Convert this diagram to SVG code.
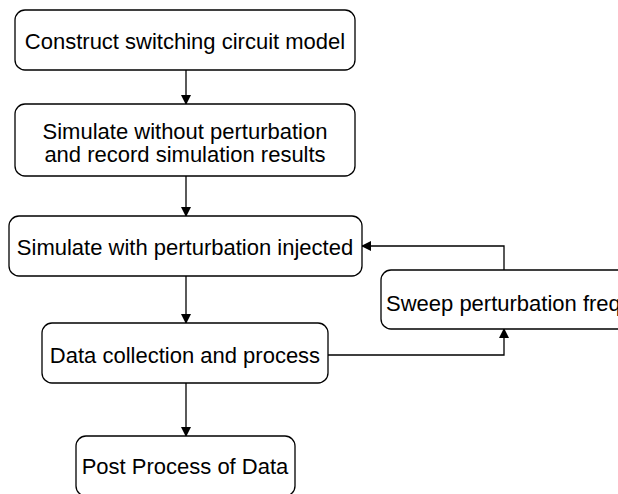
<svg xmlns="http://www.w3.org/2000/svg" width="618" height="494" viewBox="0 0 618 494">
<defs>
<style>
.box{fill:#fff;stroke:#000;stroke-width:1.3}
.t{font-family:"Liberation Sans",Arial,sans-serif;font-size:22px;fill:#000;text-anchor:middle}
.c{fill:none;stroke:#000;stroke-width:1.3}
</style>
<marker id="ah" markerWidth="10" markerHeight="10" refX="9" refY="5" orient="auto" markerUnits="userSpaceOnUse">
<path d="M0,0 L10,5 L0,10 Z" fill="#000"/>
</marker>
</defs>
<rect width="618" height="494" fill="#fff"/>
<g id="connectors">
<path class="c" d="M186,70 V104" marker-end="url(#ah)"/>
<path class="c" d="M186,176 V216" marker-end="url(#ah)"/>
<path class="c" d="M186,276 V323" marker-end="url(#ah)"/>
<path class="c" d="M186,383 V436" marker-end="url(#ah)"/>
<path class="c" d="M504,270 V246 H362" marker-end="url(#ah)"/>
<path class="c" d="M328,355 H504 V329" marker-end="url(#ah)"/>
</g>
<g id="n1"><rect class="box" x="15" y="10" width="340" height="60" rx="10"/><text class="t" x="185" y="49">Construct switching circuit model</text></g>
<g id="n2"><rect class="box" x="15" y="104" width="340" height="72" rx="10"/><text class="t" x="185" y="139">Simulate without perturbation</text><text class="t" x="185" y="162">and record simulation results</text></g>
<g id="n3"><rect class="box" x="9" y="216" width="353" height="60" rx="10"/><text class="t" x="185" y="255">Simulate with perturbation injected</text></g>
<g id="n4"><rect class="box" x="42" y="323" width="286" height="60" rx="10"/><text class="t" x="185" y="363">Data collection and process</text></g>
<g id="n5"><rect class="box" x="76" y="436" width="219" height="60" rx="10"/><text class="t" x="185" y="474">Post Process of Data</text></g>
<g id="n6"><rect class="box" x="381" y="270" width="300" height="59" rx="10"/><text x="386" y="311" style="font-family:'Liberation Sans',Arial,sans-serif;font-size:22px">Sweep perturbation frequency</text></g>
</svg>
